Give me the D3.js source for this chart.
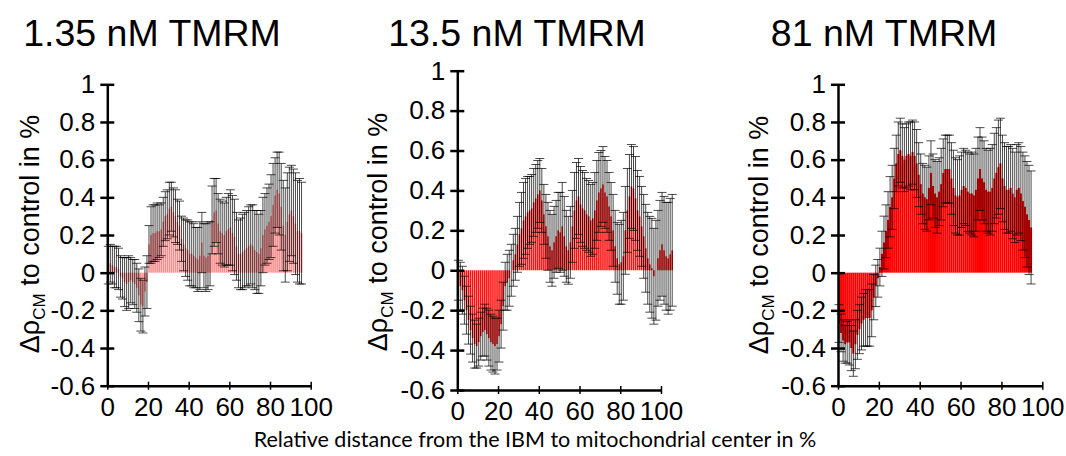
<!DOCTYPE html>
<html>
<head>
<meta charset="utf-8">
<script src="https://cdn.jsdelivr.net/npm/d3@7"></script>
<style>
body { margin: 0; background: #fff; }
svg { display: block; }
text { font-family: "Liberation Sans", Arial, sans-serif; fill: #000; }
</style>
</head>
<body>
<svg id="chart" width="1066" height="456"></svg>
<script>
// panel titles and axis ticks
var titles = ["1.35 nM TMRM", "13.5 nM TMRM", "81 nM TMRM"];
var yTicks = [-0.6, -0.4, -0.2, 0, 0.2, 0.4, 0.6, 0.8, 1];
var xTicks = [0, 20, 40, 60, 80, 100];
var xLabel = "Relative distance from the IBM to mitochondrial center in %";

// 1.35 nM: mean change per 1% distance bin and its error
var p1Mean = [0.04, 0.05, 0.04, 0.03, 0.03, 0.02, -0.02, -0.03, -0.05, -0.06,
	-0.05, -0.04, -0.05, -0.06, -0.08, -0.12, -0.17, -0.18, -0.1, -0.05,
	0.15, 0.2, 0.21, 0.21, 0.22, 0.22, 0.23, 0.27, 0.3, 0.31,
	0.34, 0.35, 0.32, 0.3, 0.27, 0.25, 0.18, 0.15, 0.13, 0.12,
	0.1, 0.1, 0.09, 0.08, 0.07, 0.09, 0.16, 0.09, 0.08, 0.09,
	0.1, 0.28, 0.32, 0.33, 0.26, 0.22, 0.21, 0.2, 0.22, 0.23,
	0.24, 0.21, 0.19, 0.14, 0.1, 0.1, 0.11, 0.12, 0.13, 0.14,
	0.15, 0.14, 0.12, 0.11, 0.1, 0.13, 0.2, 0.23, 0.25, 0.27,
	0.3, 0.36, 0.41, 0.44, 0.42, 0.35, 0.25, 0.2, 0.27, 0.31,
	0.33, 0.3, 0.26, 0.22, 0.22, 0.21];
var p1Err = [0.1, 0.1, 0.1, 0.11, 0.11, 0.11, 0.11, 0.11, 0.13, 0.14,
	0.14, 0.12, 0.12, 0.13, 0.13, 0.14, 0.14, 0.14, 0.13, 0.14,
	0.1, 0.15, 0.15, 0.15, 0.15, 0.14, 0.14, 0.13, 0.13, 0.13,
	0.14, 0.13, 0.13, 0.14, 0.12, 0.13, 0.12, 0.14, 0.15, 0.16,
	0.17, 0.17, 0.17, 0.16, 0.17, 0.18, 0.16, 0.17, 0.18, 0.18,
	0.17, 0.18, 0.18, 0.17, 0.16, 0.17, 0.17, 0.17, 0.18, 0.19,
	0.2, 0.2, 0.2, 0.18, 0.18, 0.19, 0.2, 0.2, 0.2, 0.21,
	0.21, 0.22, 0.21, 0.22, 0.21, 0.2, 0.2, 0.19, 0.2, 0.2,
	0.22, 0.22, 0.2, 0.2, 0.22, 0.23, 0.24, 0.25, 0.26, 0.25,
	0.24, 0.25, 0.27, 0.27, 0.28, 0.27];

// 13.5 nM
var p2Mean = [-0.05, -0.08, -0.1, -0.15, -0.2, -0.25, -0.3, -0.34, -0.37, -0.38,
	-0.36, -0.33, -0.31, -0.3, -0.32, -0.34, -0.36, -0.37, -0.38, -0.37,
	-0.33, -0.27, -0.18, -0.08, -0.06, -0.04, 0.0, 0.05, 0.08, 0.13,
	0.18, 0.21, 0.25, 0.27, 0.29, 0.3, 0.31, 0.34, 0.36, 0.38,
	0.4, 0.35, 0.28, 0.22, 0.17, 0.12, 0.1, 0.14, 0.17, 0.2,
	0.19, 0.22, 0.17, 0.12, 0.1, 0.14, 0.22, 0.3, 0.35, 0.37,
	0.33, 0.31, 0.3, 0.28, 0.27, 0.25, 0.26, 0.3, 0.35, 0.39,
	0.41, 0.43, 0.39, 0.37, 0.32, 0.27, 0.2, 0.12, 0.06, 0.03,
	0.04, 0.07, 0.2, 0.3, 0.37, 0.42, 0.41, 0.36, 0.3, 0.27,
	0.22, 0.17, 0.11, 0.06, 0.03, 0.01, -0.03, 0.0, 0.06, 0.1,
	0.13, 0.1, 0.07, 0.06, 0.08, 0.1];
var p2Err = [0.1, 0.12, 0.12, 0.12, 0.12, 0.12, 0.12, 0.12, 0.12, 0.11,
	0.12, 0.12, 0.12, 0.13, 0.13, 0.14, 0.14, 0.14, 0.14, 0.13,
	0.13, 0.12, 0.12, 0.12, 0.14, 0.14, 0.13, 0.13, 0.13, 0.14,
	0.16, 0.18, 0.19, 0.19, 0.18, 0.17, 0.17, 0.17, 0.17, 0.17,
	0.16, 0.16, 0.15, 0.16, 0.17, 0.18, 0.18, 0.18, 0.18, 0.19,
	0.2, 0.22, 0.2, 0.18, 0.17, 0.18, 0.18, 0.19, 0.19, 0.19,
	0.19, 0.19, 0.19, 0.18, 0.18, 0.18, 0.18, 0.19, 0.2, 0.2,
	0.19, 0.19, 0.18, 0.18, 0.17, 0.17, 0.18, 0.18, 0.18, 0.2,
	0.21, 0.22, 0.22, 0.21, 0.21, 0.21, 0.21, 0.21, 0.2, 0.2,
	0.2, 0.21, 0.22, 0.23, 0.24, 0.25, 0.24, 0.25, 0.24, 0.25,
	0.26, 0.27, 0.27, 0.28, 0.28, 0.28];

// 81 nM
var p3Mean = [-0.27, -0.32, -0.36, -0.38, -0.37, -0.37, -0.4, -0.43, -0.38, -0.33,
	-0.3, -0.27, -0.25, -0.24, -0.24, -0.24, -0.2, -0.13, -0.07, -0.03,
	0.03, 0.1, 0.16, 0.22, 0.28, 0.35, 0.4, 0.5, 0.58, 0.63,
	0.65, 0.62, 0.6, 0.62, 0.63, 0.62, 0.64, 0.62, 0.58, 0.52,
	0.47, 0.42, 0.4, 0.39, 0.45, 0.53, 0.46, 0.42, 0.4, 0.43,
	0.47, 0.53, 0.55, 0.55, 0.55, 0.5, 0.45, 0.41, 0.4, 0.41,
	0.44, 0.46, 0.45, 0.43, 0.42, 0.42, 0.41, 0.44, 0.5, 0.55,
	0.5, 0.48, 0.44, 0.43, 0.43, 0.45, 0.5, 0.53, 0.56, 0.58,
	0.5, 0.46, 0.44, 0.44, 0.45, 0.42, 0.4, 0.44, 0.45, 0.42,
	0.38, 0.35, 0.31, 0.28, 0.24];
var p3Err = [0.1, 0.1, 0.11, 0.1, 0.11, 0.12, 0.12, 0.12, 0.13, 0.13,
	0.13, 0.14, 0.14, 0.15, 0.15, 0.15, 0.14, 0.12, 0.11, 0.1,
	0.1, 0.12, 0.14, 0.14, 0.15, 0.16, 0.17, 0.16, 0.15, 0.17,
	0.17, 0.17, 0.17, 0.17, 0.17, 0.18, 0.17, 0.18, 0.18, 0.17,
	0.16, 0.16, 0.17, 0.17, 0.17, 0.17, 0.17, 0.18, 0.19, 0.18,
	0.19, 0.18, 0.18, 0.18, 0.18, 0.19, 0.2, 0.2, 0.2, 0.21,
	0.2, 0.2, 0.2, 0.21, 0.21, 0.22, 0.22, 0.22, 0.22, 0.22,
	0.22, 0.22, 0.22, 0.22, 0.23, 0.23, 0.24, 0.24, 0.25, 0.24,
	0.23, 0.23, 0.23, 0.23, 0.23, 0.24, 0.24, 0.24, 0.24, 0.25,
	0.26, 0.27, 0.28, 0.29, 0.3];

// where each panel sits on the page
var panels = [
	{ title: titles[0], mean: p1Mean, err: p1Err, fill: "#ff8a8a", gap: 0.45,
		left: 107.3, top: 84.3, bottom: 385.7, width: 203.4, titleX: 152, yTitleX: 39, yTitleY: 234 },
	{ title: titles[1], mean: p2Mean, err: p2Err, fill: "#ff1010", gap: 0.45,
		left: 457.3, top: 70.7, bottom: 390, width: 203.7, titleX: 517, yTitleX: 387, yTitleY: 232 },
	{ title: titles[2], mean: p3Mean, err: p3Err, fill: "#ff0000", gap: 0,
		left: 838, top: 84.3, bottom: 385.7, width: 204.3, titleX: 884, yTitleX: 768, yTitleY: 235 }
];

var svg = d3.select("#chart");

panels.forEach(function (p) {
	var x = d3.scaleLinear().domain([0, 100]).range([p.left, p.left + p.width]);
	var y = d3.scaleLinear().domain([-0.6, 1]).range([p.bottom, p.top]);
	var g = svg.append("g");

	var rows = p.mean.map(function (m, i) {
		return { i: i, m: m, e: p.err[i] };
	});

	//bars from zero to the mean
	g.selectAll("rect.bar").data(rows).enter().append("rect")
		.attr("class", "bar")
		.attr("x", function (d) { return x(d.i) + p.gap / 2; })
		.attr("width", function (d) { return x(d.i + 1) - x(d.i) - p.gap; })
		.attr("y", function (d) { return y(Math.max(0, d.m)); })
		.attr("height", function (d) { return Math.abs(y(d.m) - y(0)); })
		.attr("fill", p.fill);

	//error bars, so dense they read as grey
	g.selectAll("line.err").data(rows).enter().append("line")
		.attr("class", "err")
		.attr("x1", function (d) { return x(d.i + 0.5); })
		.attr("x2", function (d) { return x(d.i + 0.5); })
		.attr("y1", function (d) { return y(d.m - d.e); })
		.attr("y2", function (d) { return y(d.m + d.e); })
		.attr("stroke", "#000")
		.attr("stroke-width", 0.9)
		.attr("stroke-opacity", 0.8);

	["top", "bot"].forEach(function (side) {
		g.selectAll("line.cap-" + side).data(rows).enter().append("line")
			.attr("class", "cap-" + side)
			.attr("x1", function (d) { return x(d.i + 0.5) - 4.5; })
			.attr("x2", function (d) { return x(d.i + 0.5) + 4.5; })
			.attr("y1", function (d) { return y(side == "top" ? d.m + d.e : d.m - d.e); })
			.attr("y2", function (d) { return y(side == "top" ? d.m + d.e : d.m - d.e); })
			.attr("stroke", "#000")
			.attr("stroke-width", 1)
			.attr("stroke-opacity", 0.7);
	});

	//y axis with ticks crossing the line
	var yAxis = g.append("g")
		.attr("transform", "translate(" + p.left + ",0)")
		.call(d3.axisLeft(y).tickValues(yTicks).tickSize(7).tickSizeOuter(0)
			.tickFormat(function (d) { return String(+d.toFixed(1)); }));
	yAxis.select(".domain").attr("stroke-width", 2.5);
	yAxis.selectAll(".tick line").attr("x1", 7).attr("stroke-width", 2.5);
	yAxis.selectAll(".tick text").attr("x", -12).style("font-size", "26px")
		.style("font-family", "'Liberation Sans', Arial, sans-serif");

	var xAxis = g.append("g")
		.attr("transform", "translate(0," + p.bottom + ")")
		.call(d3.axisBottom(x).tickValues(xTicks).tickSize(4).tickSizeOuter(0));
	xAxis.select(".domain").attr("stroke-width", 2.5);
	xAxis.selectAll(".tick line").attr("y1", -4).attr("stroke-width", 1.5);
	xAxis.selectAll(".tick text").attr("y", 12).style("font-size", "26px")
		.style("font-family", "'Liberation Sans', Arial, sans-serif");

	svg.append("text")
		.attr("x", p.titleX)
		.attr("y", 46)
		.attr("text-anchor", "middle")
		.style("font-size", "37.5px")
		.text(p.title);

	var yt = svg.append("text")
		.attr("transform", "translate(" + p.yTitleX + "," + p.yTitleY + ") rotate(-90)")
		.attr("text-anchor", "middle")
		.style("font-size", "27px");
	yt.append("tspan").text("\u0394\u03c1");
	yt.append("tspan").attr("dy", 6).style("font-size", "17px").text("CM");
	yt.append("tspan").attr("dy", -6).text(" to control in %");
});

svg.append("text")
	.attr("x", 535)
	.attr("y", 447)
	.attr("text-anchor", "middle")
	.style("font-family", "Lato, 'Open Sans', sans-serif")
	.style("font-size", "21.5px")
	.text(xLabel);
</script>
</body>
</html>
